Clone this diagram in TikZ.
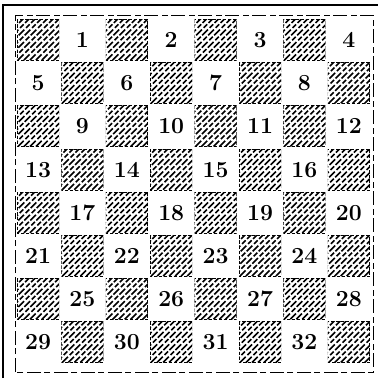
\documentclass[tikz,border=0pt]{standalone}
\begin{document}
\begin{tikzpicture}[x=1pt,y=-1pt,
  hatch/.style={line width=1.6pt, dash pattern=on 5pt off 2pt on 8pt off 2.5pt},
  num/.style={font=\fontsize{23}{23}\selectfont\bfseries, inner sep=0pt},
  outerframe/.style={line width=2.5pt},
  innerframe/.style={line width=1pt, dash pattern=on 14pt off 4pt on 6pt off 3pt}]
\useasboundingbox (0,0) rectangle (382,378);
\fill[white] (0,0) rectangle (382,378);
\draw[outerframe] (3,378) -- (3,5) -- (378,5);
\draw[innerframe] (15,372) -- (15,15) -- (373,15) -- (373,372) -- cycle;
\foreach \j in {0,...,7}{
 \foreach \i in {0,...,7}{
  \pgfmathsetmacro\cx{38+44.4*\i}
  \pgfmathsetmacro\cy{40+43.2*\j}
  \pgfmathtruncatemacro\s{mod(\i+\j,2)}
  \ifnum\s=0
    \begin{scope}
     \clip (\cx-21,\cy-20.5) rectangle (\cx+21,\cy+20.5);
     \foreach \k in {-48,-42,...,48} \draw[hatch] (\cx+\k-25,\cy+25) -- (\cx+\k+25,\cy-25);
     \draw[line width=1pt, dash pattern=on 3pt off 2pt] (\cx-21,\cy-20.5) rectangle (\cx+21,\cy+20.5);
    \end{scope}
  \else
    \pgfmathtruncatemacro\n{4*\j+floor(\i/2)+1}
    \node[num] (n\n) at (\cx,\cy) {\n};
  \fi
 }}
\end{tikzpicture}
\end{document}
